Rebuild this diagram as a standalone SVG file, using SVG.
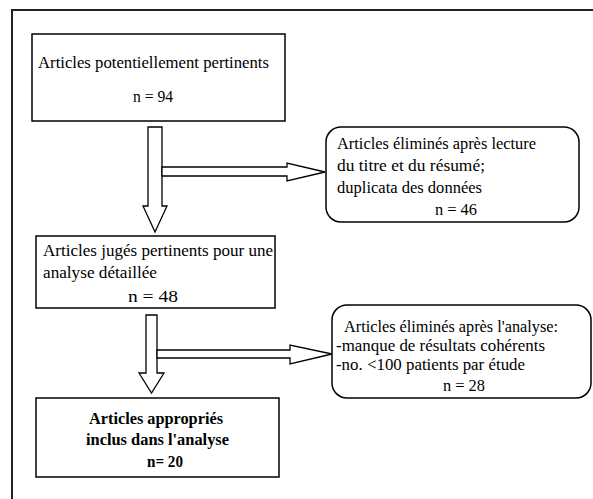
<svg xmlns="http://www.w3.org/2000/svg" width="593" height="499" viewBox="0 0 593 499">
<style>
.box{fill:#fff;stroke:#000;stroke-width:1.5}
.arr{fill:#fff;stroke:#000;stroke-width:1.3;stroke-linejoin:miter}
.t{font-family:'Liberation Serif','Times New Roman','DejaVu Serif',serif;font-size:17.5px;fill:#000}
.b{font-weight:bold}
</style>
<rect x="0" y="0" width="593" height="499" fill="#fff"/>
<path d="M12,499 L12,10 L593,10" fill="none" stroke="#222" stroke-width="2"/>
<g id="connectors">
<polygon class="arr" points="148,127 162,127 162,206 167,206 155,232 143,206 148,206"/>
<polygon class="arr" points="162,167 287,167 287,163 325,172 287,181 287,176 162,176"/>
<polygon class="arr" points="146,315 157,315 157,373 164,373 151.5,393 139,373 146,373"/>
<polygon class="arr" points="157,350 290,350 290,345 332,354 290,364 290,358 157,358"/>
</g>
<g class="t" font-family="Liberation Serif, Times New Roman, DejaVu Serif, serif" xml:space="preserve">
<g id="n1">
<rect class="box" x="32" y="34" width="253" height="87"/>
<text x="38" y="68" textLength="231" lengthAdjust="spacingAndGlyphs">Articles potentiellement  pertinents</text>
<text x="133" y="102" textLength="40" lengthAdjust="spacingAndGlyphs">n = 94</text>
</g>
<g id="n2">
<rect class="box" x="326" y="127" width="253" height="95" rx="15" ry="15"/>
<text x="337" y="149" textLength="199" lengthAdjust="spacingAndGlyphs">Articles éliminés après lecture</text>
<text x="337" y="171" textLength="148" lengthAdjust="spacingAndGlyphs">du titre et  du résumé;</text>
<text x="337" y="193" textLength="145" lengthAdjust="spacingAndGlyphs">duplicata des données</text>
<text x="435" y="215" textLength="42" lengthAdjust="spacingAndGlyphs">n = 46</text>
</g>
<g id="n3">
<rect class="box" x="36" y="236" width="239" height="72"/>
<text x="43" y="256" textLength="230" lengthAdjust="spacingAndGlyphs">Articles jugés pertinents pour une</text>
<text x="43" y="278" textLength="114" lengthAdjust="spacingAndGlyphs"> analyse détaillée</text>
<text x="128" y="302" textLength="50" lengthAdjust="spacingAndGlyphs">n = 48</text>
</g>
<g id="n4">
<rect class="box" x="332" y="305" width="259" height="93" rx="15" ry="15"/>
<text x="344" y="332" textLength="214" lengthAdjust="spacingAndGlyphs">Articles éliminés après l'analyse:</text>
<text x="336" y="351" textLength="209" lengthAdjust="spacingAndGlyphs">-manque de résultats cohérents</text>
<text x="336" y="370" textLength="189" lengthAdjust="spacingAndGlyphs">-no. &lt;100 patients par étude</text>
<text x="443" y="391" textLength="42" lengthAdjust="spacingAndGlyphs">n = 28</text>
</g>
<g id="n5">
<rect class="box" x="36" y="398" width="243" height="79"/>
<text class="b" x="89" y="424" textLength="134" lengthAdjust="spacingAndGlyphs">Articles appropriés</text>
<text class="b" x="86" y="445" textLength="143" lengthAdjust="spacingAndGlyphs">inclus dans l'analyse</text>
<text class="b" x="147" y="467" textLength="36" lengthAdjust="spacingAndGlyphs">n= 20</text>
</g>
</g>
</svg>
